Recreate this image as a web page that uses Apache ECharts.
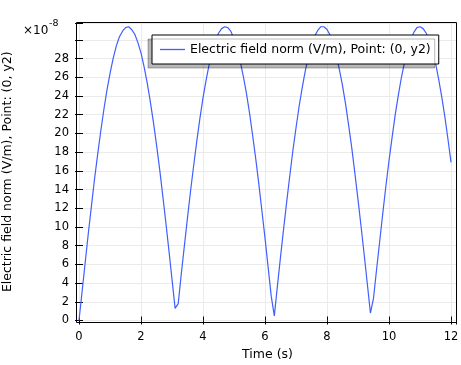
<!DOCTYPE html>
<html>
<head>
<meta charset="utf-8">
<script src="https://cdn.jsdelivr.net/npm/echarts@6/dist/echarts.min.js"></script>
<style>html,body{margin:0;padding:0;background:#fff;}#c{width:461px;height:365px;}</style>
</head>
<body>
<div id="c"></div>
<script>
// Time (s)
const times = [];
for (let i = 0; i <= 120; i++) times.push(+(i / 10).toFixed(1));
// Electric field norm (units of 1e-8 V/m), 0.1 s steps
const efield = [
  0.0, 3.1, 6.2, 9.3, 12.2, 15.1, 17.7, 20.2, 22.5, 24.6,
  26.4, 28.0, 29.3, 30.3, 30.9, 31.3, 31.4, 31.1, 30.6, 29.7,
  28.6, 27.1, 25.4, 23.4, 21.2, 18.8, 16.2, 13.4, 10.5, 7.5,
  4.4, 1.3, 1.8, 5.0, 8.0, 11.0, 13.9, 16.6, 19.2, 21.6,
  23.8, 25.7, 27.4, 28.8, 29.9, 30.7, 31.2, 31.4, 31.3, 30.9,
  30.1, 29.1, 27.7, 26.1, 24.3, 22.2, 19.8, 17.3, 14.6, 11.7,
  8.8, 5.7, 2.6, 0.5, 3.7, 6.8, 9.8, 12.7, 15.5, 18.2,
  20.6, 22.9, 24.9, 26.7, 28.2, 29.5, 30.4, 31.0, 31.4, 31.4,
  31.1, 30.5, 29.5, 28.3, 26.8, 25.1, 23.1, 20.8, 18.4, 15.7,
  12.9, 10.0, 7.0, 3.9, 0.8, 2.4, 5.5, 8.5, 11.5, 14.4,
  17.1, 19.6, 22.0, 24.1, 26.0, 27.6, 29.0, 30.0, 30.8, 31.3,
  31.4, 31.2, 30.7, 30.0, 28.9, 27.5, 25.8, 23.9, 21.8, 19.4,
  16.9
];
const seriesName = 'Electric field norm (V/m), Point: (0, y2)';
const xTitle = 'Time (s)';
const yTitle = 'Electric field norm (V/m), Point: (0, y2)';

const data = times.map((t, i) => [t, efield[i]]);
const FONT = 'DejaVu Sans';
const LINE = '#3f5fff';
const chart = echarts.init(document.getElementById('c'), null, {renderer: 'canvas'});
const isEvenInt = (v, lim) => Math.abs(v - Math.round(v)) < 1e-6 && Math.round(v) % 2 === 0 && v <= lim + 1e-6;

chart.setOption({
  animation: false,
  grid: {left: 79, right: 5, top: 23, bottom: 44.5, containLabel: false, outerBoundsMode: 'none'},
  xAxis: [{
    type: 'value', min: 0, max: 12.16, interval: 2, position: 'bottom', offset: 2,
    axisLine: {show: false},
    axisTick: {show: true, inside: true, length: 4, lineStyle: {color: '#000'}},
    axisLabel: {fontFamily: FONT, fontSize: 11.5, color: '#000', margin: 9,
      formatter: v => isEvenInt(v, 12) ? String(Math.round(v)) : ''},
    splitLine: {show: true, lineStyle: {color: '#ebebeb', width: 1}},
    name: xTitle, nameLocation: 'middle', nameGap: 24,
    nameTextStyle: {fontFamily: FONT, fontSize: 12.5, color: '#000'}
  }, {
    type: 'value', min: 0, max: 12.16, interval: 2, position: 'top',
    axisLine: {show: false},
    axisTick: {show: true, inside: true, length: 4, lineStyle: {color: '#000'}},
    axisLabel: {show: false}, splitLine: {show: false}
  }],
  yAxis: [{
    type: 'value', min: 0, max: 31.8, interval: 2, position: 'left', offset: 3,
    axisLine: {show: false},
    axisTick: {show: true, inside: true, length: 4, lineStyle: {color: '#000'}},
    axisLabel: {fontFamily: FONT, fontSize: 11.5, color: '#000', margin: 7,
      formatter: v => isEvenInt(v, 28) ? String(Math.round(v)) : ''},
    splitLine: {show: true, lineStyle: {color: '#ebebeb', width: 1}},
    name: yTitle, nameLocation: 'middle', nameGap: 62,
    nameTextStyle: {fontFamily: FONT, fontSize: 12.5, color: '#000'}
  }, {
    type: 'value', min: 0, max: 31.8, interval: 2, position: 'right',
    axisLine: {show: false},
    axisTick: {show: true, inside: true, length: 4, lineStyle: {color: '#000'}},
    axisLabel: {show: false}, splitLine: {show: false}
  }],
  legend: {
    show: true, left: 152, top: 35, orient: 'horizontal',
    padding: [8, 8, 8, 8], itemWidth: 25, itemHeight: 1.3, itemGap: 6,
    icon: 'rect',
    backgroundColor: '#fff', borderColor: '#000', borderWidth: 1, borderRadius: 0,
    shadowColor: 'rgba(0,0,0,0.28)', shadowBlur: 0, shadowOffsetX: -4, shadowOffsetY: 4,
    textStyle: {fontFamily: FONT, fontSize: 12.5, color: '#000'},
    data: [seriesName]
  },
  graphic: [
    {type: 'rect', shape: {x: 76.5, y: 22.5, width: 380, height: 300}, style: {fill: 'none', stroke: '#000', lineWidth: 1}, z: 10, silent: true},
    {type: 'text', left: 23, top: 25, style: {text: '×10', font: '12px "DejaVu Sans"', fill: '#000'}},
    {type: 'text', left: 49, top: 19, style: {text: '-8', font: '9.5px "DejaVu Sans"', fill: '#000'}}
  ],
  series: [{
    name: seriesName, type: 'line', data: data, xAxisIndex: 0, yAxisIndex: 0,
    showSymbol: false, symbol: 'none', smooth: false,
    lineStyle: {color: LINE, width: 1.2}, itemStyle: {color: LINE}
  }]
});
</script>
</body>
</html>
